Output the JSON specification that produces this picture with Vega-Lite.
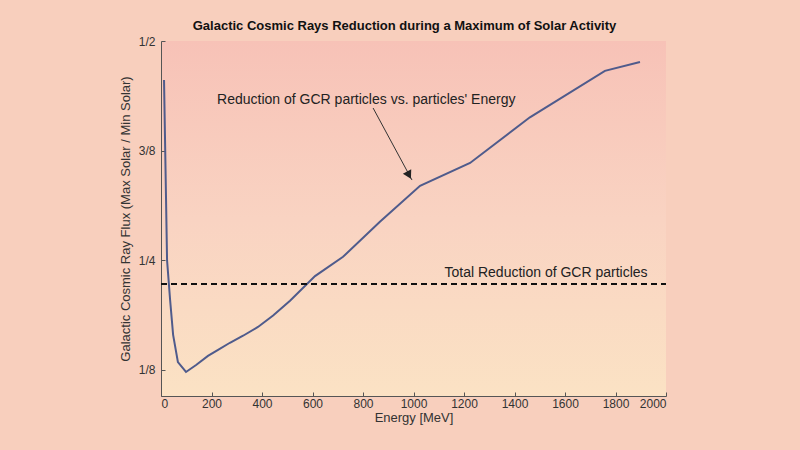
{
  "$schema": "https://vega.github.io/schema/vega-lite/v6.json",
  "autosize": "none",
  "width": 505,
  "height": 355,
  "padding": {"left": 161, "top": 41, "right": 134, "bottom": 54},
  "background": "#f8cfbd",
  "title": {"text": "Galactic Cosmic Rays Reduction during a Maximum of Solar Activity", "font": "Liberation Sans", "fontSize": 13, "fontWeight": "bold", "color": "#111", "offset": 2, "dx": -9},
  "config": {
    "view": {"stroke": null, "fill": {"gradient": "linear", "x1": 0, "y1": 0, "x2": 0, "y2": 1, "stops": [{"offset": 0, "color": "#f7c2b7"}, {"offset": 0.5, "color": "#f9d3c2"}, {"offset": 1, "color": "#fbe2c4"}]}},
    "axis": {"labelFont": "Liberation Sans", "titleFont": "Liberation Sans", "labelFontSize": 12, "titleFontSize": 13, "labelColor": "#333", "titleColor": "#333", "domainColor": "#555", "tickColor": "#555", "grid": false, "titleFontWeight": "normal"}
  },
  "datasets": {
    "curve": [
      {"energy": 12, "ratio": 0.4555},
      {"energy": 20, "ratio": 0.3187},
      {"energy": 24, "ratio": 0.25},
      {"energy": 36, "ratio": 0.205},
      {"energy": 48, "ratio": 0.165},
      {"energy": 67, "ratio": 0.134},
      {"energy": 99, "ratio": 0.1227},
      {"energy": 139, "ratio": 0.1307},
      {"energy": 186, "ratio": 0.141},
      {"energy": 226, "ratio": 0.148},
      {"energy": 273, "ratio": 0.156},
      {"energy": 325, "ratio": 0.164},
      {"energy": 384, "ratio": 0.174},
      {"energy": 444, "ratio": 0.187},
      {"energy": 511, "ratio": 0.204},
      {"energy": 610, "ratio": 0.232},
      {"energy": 721, "ratio": 0.254},
      {"energy": 867, "ratio": 0.294},
      {"energy": 1026, "ratio": 0.335},
      {"energy": 1224, "ratio": 0.361},
      {"energy": 1461, "ratio": 0.413},
      {"energy": 1758, "ratio": 0.466},
      {"energy": 1897, "ratio": 0.476}
    ],
    "total": [{"energy": 0, "ratio": 0.223}, {"energy": 2000, "ratio": 0.223}],
    "arrow": [{"energy": 840, "ratio": 0.4236, "order": 0}, {"energy": 994, "ratio": 0.3415, "order": 1}],
    "arrowhead": [{"energy": 994, "ratio": 0.3415}],
    "labels": [
      {"energy": 813, "ratio": 0.4327, "label": "Reduction of GCR particles vs. particles' Energy"},
      {"energy": 1525, "ratio": 0.2356, "label": "Total Reduction of GCR particles"}
    ]
  },
  "layer": [
    {
      "data": {"name": "curve"},
      "mark": {"type": "line", "color": "#4f5b8c", "strokeWidth": 2},
      "encoding": {
        "x": {"field": "energy", "type": "quantitative", "scale": {"domain": [0, 2000], "nice": false},
          "axis": {"title": "Energy [MeV]", "format": "d", "values": [0, 200, 400, 600, 800, 1000, 1200, 1400, 1600, 1800, 2000], "tickSize": -4, "labelPadding": 6, "titlePadding": 2}},
        "y": {"field": "ratio", "type": "quantitative", "scale": {"domain": [0.0953, 0.5], "nice": false, "zero": false},
          "axis": {"title": "Galactic Cosmic Ray Flux (Max Solar / Min Solar)", "values": [0.125, 0.25, 0.375, 0.5], "labelExpr": "datum.value == 0.125 ? '1/8' : datum.value == 0.25 ? '1/4' : datum.value == 0.375 ? '3/8' : '1/2'", "tickSize": -4, "labelPadding": 10, "titlePadding": 6}}
      }
    },
    {
      "data": {"name": "total"},
      "mark": {"type": "line", "color": "#111", "strokeWidth": 2, "strokeDash": [6, 4]},
      "encoding": {"x": {"field": "energy", "type": "quantitative"}, "y": {"field": "ratio", "type": "quantitative"}}
    },
    {
      "data": {"name": "arrow"},
      "mark": {"type": "line", "color": "#333", "strokeWidth": 1},
      "encoding": {"x": {"field": "energy", "type": "quantitative"}, "y": {"field": "ratio", "type": "quantitative"}, "order": {"field": "order"}}
    },
    {
      "data": {"name": "arrowhead"},
      "mark": {"type": "point", "shape": "triangle-down", "filled": true, "color": "#222", "size": 90, "angle": 332, "opacity": 1, "yOffset": -5, "xOffset": -3},
      "encoding": {"x": {"field": "energy", "type": "quantitative"}, "y": {"field": "ratio", "type": "quantitative"}}
    },
    {
      "data": {"name": "labels"},
      "mark": {"type": "text", "font": "Liberation Sans", "fontSize": 14, "color": "#222"},
      "encoding": {"x": {"field": "energy", "type": "quantitative"}, "y": {"field": "ratio", "type": "quantitative"}, "text": {"field": "label"}}
    }
  ]
}
